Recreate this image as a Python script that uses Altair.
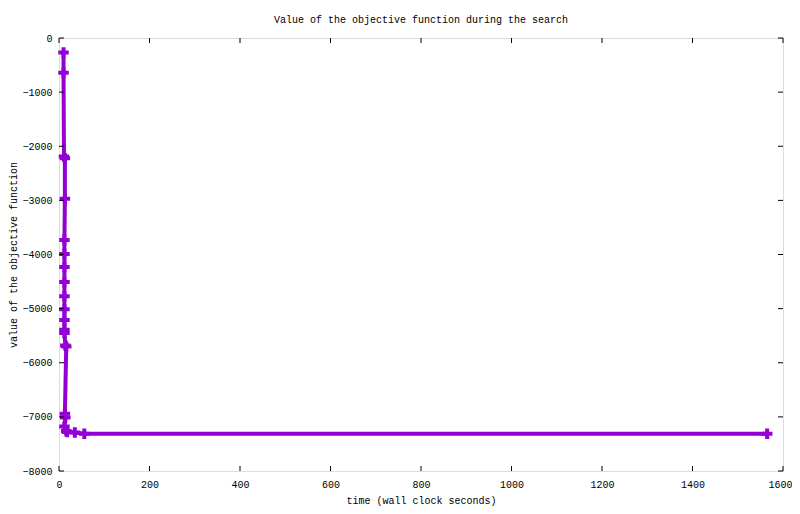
import altair as alt
import pandas as pd

# data
time_s = [10, 10, 11, 13, 13, 12, 12, 12, 12, 12, 12, 12, 12, 12, 14, 16,
          13, 14, 12, 16, 18, 35, 56, 1565]
objective = [-270, -640, -2190, -2220, -2970, -3730, -3990, -4230, -4510, -4770,
             -5010, -5210, -5390, -5450, -5680, -5700, -6940, -7010, -7180,
             -7260, -7280, -7290, -7310, -7310]
x_ticks = [0, 200, 400, 600, 800, 1000, 1200, 1400, 1600]
y_ticks = [-8000, -7000, -6000, -5000, -4000, -3000, -2000, -1000, 0]

W, H = 724, 433
FONT = "Liberation Mono"
COLOR = "#9400d3"
TICK = 5

df = pd.DataFrame({"t": time_s, "v": objective, "i": list(range(len(time_s)))})
xt = pd.DataFrame({"t": x_ticks})
yt = pd.DataFrame({"v": y_ticks})

xs = alt.Scale(domain=[0, 1600], nice=False, zero=False)
ys = alt.Scale(domain=[-8000, 0], nice=False, zero=False)

xaxis = alt.Axis(values=x_ticks, format="d", ticks=False, domain=False, grid=False,
                 labelFont=FONT, labelFontSize=10, labelColor="black",
                 labelPadding=8, title="time (wall clock seconds)",
                 titleFont=FONT, titleFontSize=10, titleFontWeight="normal",
                 titleColor="black", titlePadding=6, labelFlush=False,
                 labelAlign={"expr": "datum.value == 1600 ? 'right' : 'center'"},
                 labelOffset={"expr": "datum.value == 1600 ? 9 : 0"})
yaxis = alt.Axis(values=y_ticks, format="d", ticks=False, domain=False, grid=False,
                 labelFont=FONT, labelFontSize=10, labelColor="black",
                 labelPadding=7, title="value of the objective function",
                 titleFont=FONT, titleFontSize=10, titleFontWeight="normal",
                 titleColor="black", titlePadding=3, labelFlush=False)

base = alt.Chart(df)
line = base.mark_line(color=COLOR, strokeWidth=4, clip=True).encode(
    x=alt.X("t:Q", scale=xs, axis=xaxis),
    y=alt.Y("v:Q", scale=ys, axis=yaxis),
    order="i:Q",
)
pts = base.mark_point(shape="M-1,0L1,0M0,-1L0,1", size=110, strokeWidth=4,
                      filled=False, color=COLOR, opacity=1).encode(
    x=alt.X("t:Q", scale=xs),
    y=alt.Y("v:Q", scale=ys),
)

xtb = alt.Chart(xt).mark_rule(color="black", strokeWidth=1).encode(
    x=alt.X("t:Q", scale=xs), y=alt.value(H), y2=alt.value(H - TICK))
xtt = alt.Chart(xt).mark_rule(color="black", strokeWidth=1).encode(
    x=alt.X("t:Q", scale=xs), y=alt.value(0), y2=alt.value(TICK))
ytl = alt.Chart(yt).mark_rule(color="black", strokeWidth=1).encode(
    y=alt.Y("v:Q", scale=ys), x=alt.value(0), x2=alt.value(TICK))
ytr = alt.Chart(yt).mark_rule(color="black", strokeWidth=1).encode(
    y=alt.Y("v:Q", scale=ys), x=alt.value(W - TICK), x2=alt.value(W))

chart = alt.layer(line, pts, xtb, xtt, ytl, ytr).properties(
    width=W, height=H,
    autosize=alt.AutoSizeParams(type="none"),
    padding={"left": 51, "top": 30, "right": 9, "bottom": 35},
    title=alt.TitleParams("Value of the objective function during the search",
                          font=FONT, fontSize=10, fontWeight="normal",
                          color="black", anchor="middle", offset=8),
).configure_view(stroke="black", strokeWidth=1).configure(background="white")

chart.save("out.html", embed_options={"renderer": "svg", "actions": False})
